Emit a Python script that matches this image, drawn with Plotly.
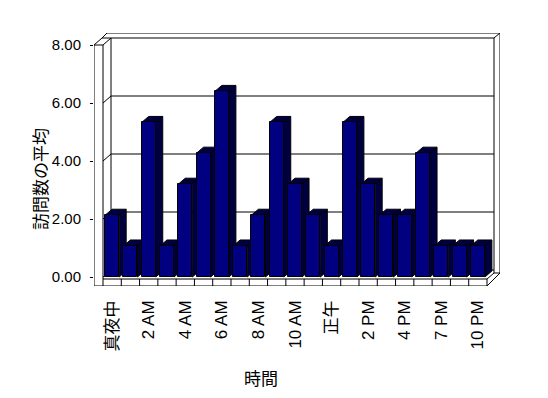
import plotly.graph_objects as go

# ---------------- data ----------------
categories = ["真夜中", "1 AM", "2 AM", "3 AM", "4 AM", "5 AM", "6 AM", "7 AM",
              "8 AM", "9 AM", "10 AM", "11 AM", "正午", "1 PM", "2 PM", "3 PM",
              "4 PM", "6 PM", "7 PM", "9 PM", "10 PM"]
visits = [2.13, 1.07, 5.33, 1.07, 3.20, 4.27, 6.40, 1.07, 2.13, 5.33, 3.20,
          2.13, 1.07, 5.33, 3.20, 2.13, 2.13, 4.27, 1.07, 1.07, 1.07]
y_ticks = [0, 2, 4, 6, 8]
x_title = "時間"
y_title = "訪問数の平均"

# ---------------- geometry (pixels, page coordinates) ----------------
W, H = 548, 398
OFF = 8                                     # default page body margin
PL, PR, PT, PB = 94, 500, 33, 286          # plot area in px
X0, CW = 103.0, 384 / 21                   # front plane: left edge, category width
Y0, UY = 277.0, 29.0                        # front plane: zero line, px per unit
FY = 279.0                                  # floor front top edge
WDX, WDY = 8, 7                             # wall depth offset
BDX, BDY = 7, 6                             # bar depth offset
BW = 0.77                                   # bar width (category units)

def xd(px):
    return -0.5 + (px - X0) / CW

def yd(py):
    return (Y0 - py) / UY

def px_of_v(v):
    return Y0 - v * UY

shapes = []
def line(x0, y0, x1, y1):
    shapes.append(dict(type="line", xref="x", yref="y", layer="below",
                       x0=xd(x0), y0=yd(y0), x1=xd(x1), y1=yd(y1),
                       line=dict(color="black", width=1)))

top_front = px_of_v(y_ticks[-1])
back_top = top_front - WDY
back_zero = Y0 - WDY
xr_front = X0 + len(categories) * CW
# left wall
line(PL, top_front, PL, PB)
line(X0, top_front, X0, FY)
line(PL, top_front, X0, top_front)
line(PL, top_front, PL + WDX, back_top)
line(X0, top_front, X0 + WDX, back_top)
line(X0 + WDX, back_top, X0 + WDX, back_zero)
# back wall
line(PL + WDX, back_top, xr_front + WDX - 1, back_top)
line(PL + WDX + 5, PT, PR, PT)
line(PL + WDX, back_top, PL + WDX + 5, PT)
line(xr_front + WDX - 1, back_top, PR, PT)
line(xr_front + WDX - 1, back_top, xr_front + WDX - 1, FY - 6)
line(PR, PT, PR, FY - 6)
# gridlines on back wall (and on left wall)
for v in y_ticks[:-1]:
    yb = px_of_v(v) - WDY
    line(X0 + WDX, yb, xr_front + WDX - 1, yb)
    line(X0, px_of_v(v), X0 + WDX, yb)
# floor
line(X0, FY, xr_front, FY)
line(PL, PB, xr_front, PB)
line(xr_front, FY, xr_front + WDX - 1, FY - 6)
line(xr_front + WDX - 1, FY - 6, PR, FY - 6)
line(xr_front, PB, PR, FY - 6)
for k in range(len(categories) + 1):
    xk = X0 + k * CW
    line(xk, FY, xk, PB)

# dark faces (side + top) of each bar, from the data
ddx, ddy = BDX / CW, BDY / UY
for i, v in enumerate(visits):
    xl, xr = i - BW / 2, i + BW / 2
    path = (f"M {xl},{v} L {xl+ddx},{v+ddy} L {xr+ddx},{v+ddy} "
            f"L {xr+ddx},{ddy} L {xr},0 L {xr},{v} Z "
            f"M {xr},{v} L {xr+ddx},{v+ddy}")
    shapes.append(dict(type="path", xref="x", yref="y", layer="below",
                       path=path, fillcolor="#000040",
                       line=dict(color="black", width=1)))

fig = go.Figure()
fig.add_trace(go.Bar(
    x=list(range(len(categories))), y=visits, width=BW,
    marker=dict(color="#000080", line=dict(color="black", width=1)),
    hoverinfo="skip", showlegend=False))

def xp(px):
    return (px - PL) / (PR - PL)

def yp(py):
    return (PB - py) / (PB - PT)

font_main = "Liberation Sans, Noto Sans CJK JP, sans-serif"
fig.update_layout(
    width=W - OFF, height=H - OFF,
    margin=dict(l=PL - OFF, r=W - PR, t=PT - OFF, b=H - PB, pad=0,
                autoexpand=False),
    paper_bgcolor="white", plot_bgcolor="rgba(0,0,0,0)",
    font=dict(family=font_main, color="black"),
    shapes=shapes,
    bargap=0,
    xaxis=dict(range=[xd(PL), xd(PR)], showgrid=False, zeroline=False,
               showline=False, automargin=False,
               tickmode="array",
               tickvals=list(range(len(categories)))[::2],
               ticktext=categories[::2],
               tickangle=-90, ticks="", tickfont=dict(size=17),
               ticklabelstandoff=10),
    yaxis=dict(range=[yd(PB), yd(PT)], showgrid=False, zeroline=False,
               showline=False, automargin=False,
               tickmode="array", tickvals=y_ticks,
               ticktext=[f"{v:.2f}" for v in y_ticks],
               ticks="outside", ticklen=3, tickcolor="black", tickwidth=1,
               tickfont=dict(size=15), ticklabelstandoff=6),
    annotations=[
        dict(text=y_title, xref="paper", yref="paper",
             x=xp(39), y=yp(179), xanchor="center", yanchor="middle",
             showarrow=False, textangle=-90,
             font=dict(size=17, family="Noto Sans CJK JP")),
        dict(text=x_title, xref="paper", yref="paper",
             x=xp(261), y=yp(377), xanchor="center", yanchor="middle",
             showarrow=False,
             font=dict(size=17, family="Noto Sans CJK JP")),
    ],
)

fig.write_html("out.html")
